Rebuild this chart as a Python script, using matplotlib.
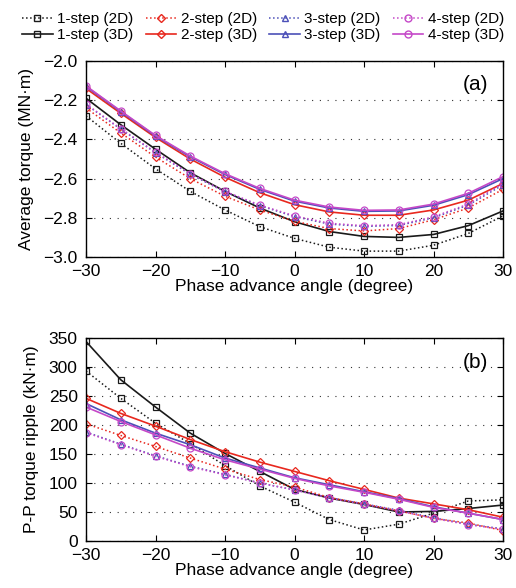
import matplotlib
matplotlib.use("Agg")
import matplotlib.pyplot as plt
from matplotlib.lines import Line2D

plt.rcParams['font.family'] = ['Liberation Sans', 'DejaVu Sans']

angles = [-30, -25, -20, -15, -10, -5, 0, 5, 10, 15, 20, 25, 30]

# Average torque (MN·m)
torque_1s_2d = [-2.28, -2.42, -2.55, -2.665, -2.76, -2.845, -2.905, -2.95, -2.97, -2.97, -2.94, -2.88, -2.79]
torque_1s_3d = [-2.19, -2.325, -2.45, -2.57, -2.665, -2.75, -2.82, -2.87, -2.895, -2.90, -2.885, -2.84, -2.765]
torque_2s_2d = [-2.24, -2.367, -2.49, -2.60, -2.69, -2.76, -2.818, -2.855, -2.867, -2.855, -2.81, -2.75, -2.655]
torque_2s_3d = [-2.14, -2.267, -2.39, -2.50, -2.593, -2.672, -2.733, -2.77, -2.787, -2.787, -2.76, -2.71, -2.625]
torque_3s_2d = [-2.222, -2.348, -2.468, -2.578, -2.668, -2.738, -2.794, -2.832, -2.844, -2.839, -2.80, -2.735, -2.632]
torque_3s_3d = [-2.13, -2.258, -2.383, -2.489, -2.579, -2.655, -2.715, -2.75, -2.767, -2.765, -2.736, -2.682, -2.60]
torque_4s_2d = [-2.22, -2.345, -2.465, -2.575, -2.665, -2.735, -2.79, -2.828, -2.84, -2.835, -2.795, -2.73, -2.625]
torque_4s_3d = [-2.127, -2.255, -2.38, -2.485, -2.575, -2.65, -2.71, -2.745, -2.762, -2.76, -2.73, -2.675, -2.59]

# P-P torque ripple (kN·m)
ripple_1s_2d = [293, 246, 203, 168, 130, 95, 67, 37, 19, 29, 48, 69, 71]
ripple_1s_3d = [344, 278, 231, 186, 151, 120, 89, 74, 63, 50, 51, 56, 62]
ripple_2s_2d = [202, 182, 163, 143, 124, 106, 93, 75, 64, 52, 39, 31, 18]
ripple_2s_3d = [246, 220, 198, 175, 154, 136, 120, 104, 89, 74, 64, 54, 41]
ripple_3s_2d = [188, 167, 147, 129, 115, 100, 88, 75, 64, 53, 40, 29, 21]
ripple_3s_3d = [237, 209, 186, 166, 143, 126, 109, 97, 85, 73, 59, 48, 37]
ripple_4s_2d = [187, 166, 146, 128, 114, 100, 88, 74, 63, 52, 39, 28, 20]
ripple_4s_3d = [231, 206, 183, 160, 140, 124, 108, 95, 84, 72, 58, 48, 37]

labels = ['1-step (2D)', '1-step (3D)', '2-step (2D)', '2-step (3D)',
          '3-step (2D)', '3-step (3D)', '4-step (2D)', '4-step (3D)']

colors = ['#1a1a1a', '#e8281e', '#4c50b8', '#c548c8']
markers = ['s', 'D', '^', 'o']
msizes = [4.5, 4, 5, 5]

fig = plt.figure(figsize=(5.16, 5.88), dpi=100)
W, H = 516, 588
axA = fig.add_axes([86 / W, 1 - 257 / H, (503 - 86) / W, (257 - 61) / H])
axB = fig.add_axes([86 / W, 1 - 541 / H, (503 - 86) / W, (541 - 338) / H])

torque_sets = [(torque_1s_2d, torque_1s_3d), (torque_2s_2d, torque_2s_3d),
               (torque_3s_2d, torque_3s_3d), (torque_4s_2d, torque_4s_3d)]
ripple_sets = [(ripple_1s_2d, ripple_1s_3d), (ripple_2s_2d, ripple_2s_3d),
               (ripple_3s_2d, ripple_3s_3d), (ripple_4s_2d, ripple_4s_3d)]

def draw(ax, sets):
    for i, (d2, d3) in enumerate(sets):
        ax.plot(angles, d2, linestyle=':', color=colors[i], marker=markers[i],
                markersize=msizes[i], mfc='none', mec=colors[i], lw=1.1, mew=0.9)
        ax.plot(angles, d3, linestyle='-', color=colors[i], marker=markers[i],
                markersize=msizes[i], mfc='none', mec=colors[i], lw=1.2, mew=0.9)

draw(axA, torque_sets)
draw(axB, ripple_sets)

FS = 12.5
for ax in (axA, axB):
    ax.set_xlim(-30, 30)
    ax.set_xticks([-30, -20, -10, 0, 10, 20, 30])
    ax.tick_params(direction='in', top=True, right=True, labelsize=FS, length=4)
    ax.tick_params(axis='x', pad=5)
    ax.tick_params(axis='y', pad=6)
    ax.grid(axis='y', linestyle=(0, (1, 6)), color='#333333', lw=0.8)
    ax.set_xlabel('Phase advance angle (degree)', fontsize=FS, labelpad=0)
    for s in ax.spines.values():
        s.set_linewidth(1.0)

axA.set_ylim(-3.0, -2.0)
axA.set_yticks([-3.0, -2.8, -2.6, -2.4, -2.2, -2.0])
axA.set_yticklabels(['\u22123.0', '\u22122.8', '\u22122.6', '\u22122.4', '\u22122.2', '\u22122.0'])
axA.set_ylabel('Average torque (MN\u00b7m)', fontsize=FS, labelpad=7)
axA.text(0.965, 0.88, '(a)', transform=axA.transAxes, ha='right', va='center', fontsize=15)

axB.set_ylim(0, 350)
axB.set_yticks([0, 50, 100, 150, 200, 250, 300, 350])
axB.set_ylabel('P-P torque ripple (kN\u00b7m)', fontsize=FS, labelpad=7)
axB.text(0.965, 0.88, '(b)', transform=axB.transAxes, ha='right', va='center', fontsize=15)

handles = []
for i in range(4):
    handles.append(Line2D([], [], linestyle=':', color=colors[i], marker=markers[i],
                          markersize=msizes[i], mfc='none', mec=colors[i], lw=1.1))
    handles.append(Line2D([], [], linestyle='-', color=colors[i], marker=markers[i],
                          markersize=msizes[i], mfc='none', mec=colors[i], lw=1.2))

fig.legend(handles, labels, ncol=4, loc='upper center', bbox_to_anchor=(0.51, 1 - 3 / H),
           frameon=False, fontsize=11, handlelength=2.0, handletextpad=0.3,
           columnspacing=0.8, labelspacing=0.15, borderaxespad=0.2)

fig.savefig('out.png', dpi=100)
